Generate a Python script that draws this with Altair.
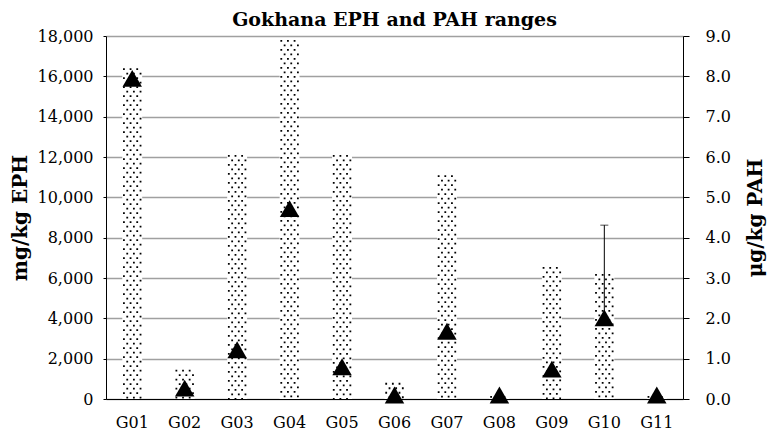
import altair as alt
import pandas as pd

# ---- data ----
sites = ["G01", "G02", "G03", "G04", "G05", "G06", "G07", "G08", "G09", "G10", "G11"]
eph_mgkg = [16400, 1450, 12100, 17800, 12100, 800, 11100, 150, 6550, 6200, 150]
pah_ugkg = [7.95, 0.27, 1.22, 4.72, 0.80, 0.10, 1.68, 0.10, 0.74, 2.01, 0.10]
err_site = ["G10"]
err_low = [2.01]
err_high = [4.31]
eph_ticks = [0, 2000, 4000, 6000, 8000, 10000, 12000, 14000, 16000, 18000]
pah_ticks = [0, 1, 2, 3, 4, 5, 6, 7, 8, 9]
dot_cols = [0, 1, 2, 3, 4, 5]

FONT = "DejaVu Serif"

df = pd.DataFrame({"site": sites, "eph": eph_mgkg, "pah": pah_ugkg})
dots = pd.DataFrame(
    [{"site": s, "eph": e, "col": c} for s, e in zip(sites, eph_mgkg) for c in dot_cols]
)
err = pd.DataFrame({"site": err_site, "lo": err_low, "hi": err_high})

X = alt.X(
    "site:N",
    sort=sites,
    scale=alt.Scale(paddingInner=0.62, paddingOuter=0.31),
    axis=alt.Axis(title=None, ticks=False, labelPadding=15, labelAngle=0,
                  domainColor="black", domainWidth=1, grid=False),
)

left_axis = alt.Axis(
    values=eph_ticks, format=",.0f", title="mg/kg EPH", tickSize=3, labelPadding=10,
    titlePadding=7, grid=True, gridColor="#a0a0a0", gridWidth=1.3,
    domainColor="black", tickColor="black",
)
right_axis = alt.Axis(
    orient="right", values=pah_ticks, format=".1f", title="μg/kg PAH", grid=False,
    tickSize=6, labelPadding=16, titlePadding=15, titleAngle=270, titleBaseline="top",
    domainColor="black", tickColor="black",
)

Y_eph = alt.Y("eph:Q", scale=alt.Scale(domain=[0, 18000], nice=False), axis=left_axis)

bars = alt.Chart(df).mark_bar(color="white").encode(x=X, y=Y_eph, y2=alt.datum(0))

xoff = alt.XOffset("col:O", scale=alt.Scale(paddingInner=0, paddingOuter=0))
dots_even = (
    alt.Chart(dots)
    .transform_filter("datum.col % 2 == 0")
    .mark_rule(color="black", strokeWidth=1.8, strokeDash=[1.8, 7.2], strokeDashOffset=0, strokeCap="butt")
    .encode(x=X, xOffset=xoff, y=Y_eph, y2=alt.datum(0))
)
dots_odd = (
    alt.Chart(dots)
    .transform_filter("datum.col % 2 == 1")
    .mark_rule(color="black", strokeWidth=1.8, strokeDash=[1.8, 7.2], strokeDashOffset=4.5, strokeCap="butt")
    .encode(x=X, xOffset=xoff, y=Y_eph, y2=alt.datum(0))
)

eph_layer = alt.layer(bars, dots_even, dots_odd)

pah_scale = alt.Scale(domain=[0, 9], nice=False)
err_rule = alt.Chart(err).mark_rule(color="black", strokeWidth=1).encode(
    x=X, y=alt.Y("lo:Q", scale=pah_scale, axis=right_axis), y2="hi:Q"
)
err_cap = alt.Chart(err).mark_tick(color="black", thickness=1, size=8).encode(
    x=X, y=alt.Y("hi:Q", scale=pah_scale, axis=right_axis)
)
tri = alt.Chart(df).mark_point(shape="triangle-up", filled=True, color="black", opacity=1, size=380).encode(
    x=X, y=alt.Y("pah:Q", scale=pah_scale, axis=right_axis)
)
pah_layer = alt.layer(err_rule, err_cap, tri)

chart = (
    alt.layer(eph_layer, pah_layer)
    .resolve_scale(y="independent")
    .properties(
        width=577,
        height=363,
        autosize=alt.AutoSizeParams(type="none"),
        padding={"left": 98, "top": 28, "right": 85, "bottom": 33},
        title=alt.TitleParams(
            "Gokhana EPH and PAH ranges", font=FONT, fontSize=19, fontWeight="bold",
            color="black", anchor="middle", frame="group", offset=-2,
        ),
    )
    .configure_axis(
        labelFont=FONT, labelFontSize=16, labelColor="black",
        titleFont=FONT, titleFontSize=20, titleFontWeight="bold", titleColor="black",
    )
    .configure_view(stroke=None)
)

chart.save("out.html", embed_options={"renderer": "svg", "actions": False})
